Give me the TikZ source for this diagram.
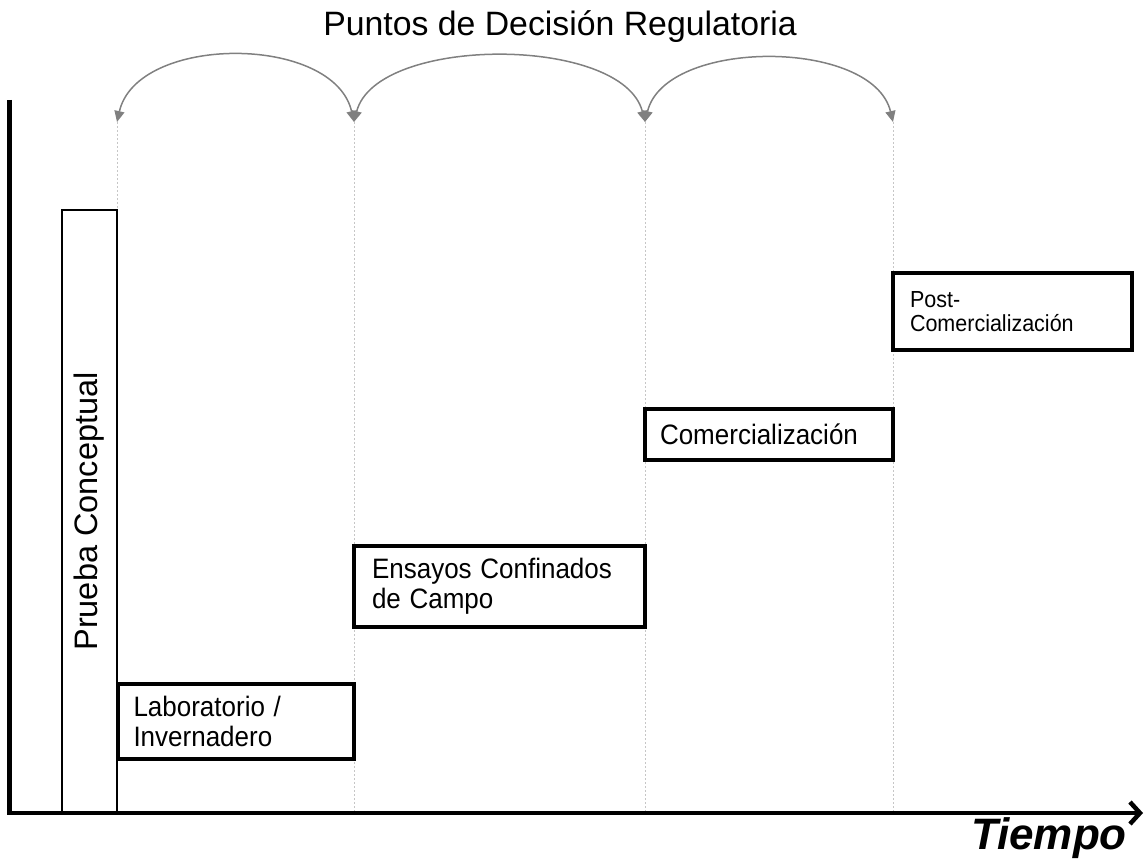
\documentclass[tikz,border=0pt]{standalone}
\usepackage{fontspec}
\setmainfont{Liberation Sans}
\usetikzlibrary{arrows.meta}

\tikzset{
    etapa/.style={draw, line width=4pt, outer sep=0pt, anchor=north west, align=left,
        inner xsep=16pt, inner ysep=0pt, yscale=1.08, transform shape,
        font=\fontsize{26}{27.5}\selectfont},
    arco/.style={draw=gray, line width=1.5pt,
        {Triangle[length=11pt,width=10pt]}-{Triangle[length=11pt,width=10pt]}},
    guia/.style={draw=gray!45, line width=0.8pt, dash pattern=on 2pt off 2pt},
    eje/.style={line width=4.5pt, line join=miter, -{Straight Barb[length=10pt,width=22pt]}}
}

\begin{document}
\begin{tikzpicture}[x=1pt,y=-1pt]
    \useasboundingbox (0,0) rectangle (1146,861);

    % Title over the decision points:
    \node [anchor=base, font=\fontsize{33.8}{36}\selectfont] (titulo) at (560,36)
        {Puntos de Decisión Regulatoria};

    % Guide lines:
    % One light dashed line per decision point, from the arrow tips down to the axis
    \foreach \n/\x in {1/117, 2/354, 3/645, 4/893}{%
        \coordinate (g\n) at (\x,122);
        \coordinate (b\n) at (\x,813);
        \draw [guia] (g\n) -- (b\n);
    }

    % Arcs between neighbouring decision points:
    \draw [arco] (g1) .. controls +(20,-88) and +(-20,-88) .. (g2);
    \draw [arco] (g2) .. controls +(22,-87) and +(-22,-87) .. (g3);
    \draw [arco] (g3) .. controls +(20,-84) and +(-20,-84) .. (g4);

    % Proof of concept bar:
    \node [draw, line width=1.3pt, rotate=90, minimum width=603pt, minimum height=55pt,
        font=\fontsize{32.5}{36}\selectfont] (prueba) at (89.5,511.5) {Prueba Conceptual};

    % Stages:
    % Boxes are placed by their top left corner, text sits inside
    % (heights are divided by the 1.08 vertical stretch of the style)
    \node [etapa, text width=204pt, minimum height=69.9pt] (lab) at (117.5,684)
        {Laboratorio /\\Invernadero};
    \node [etapa, inner xsep=18pt, text width=255pt, minimum height=75pt] (ensayos) at (354,546)
        {Ensayos Confinados\\de Campo};
    \node [etapa, inner xsep=15pt, text width=218pt, minimum height=47.2pt] (comerc) at (645,409)
        {Comercialización};
    \node [etapa, inner xsep=17pt, text width=205pt, minimum height=71.3pt,
        font=\fontsize{21.5}{22.5}\selectfont] (postcom) at (893,273)
        {Post-\\Comercialización};

    % Axes:
    \coordinate (ytop) at (9.5,100);
    \coordinate (origen) at (9.5,813);
    \coordinate (xfin) at (1143,813);
    \draw [eje] (ytop) -- (origen) -- (xfin);
    \node [anchor=base, font=\fontsize{44}{46}\bfseries\itshape] (tiempo) at (1049,849) {Tiempo};
\end{tikzpicture}
\end{document}
